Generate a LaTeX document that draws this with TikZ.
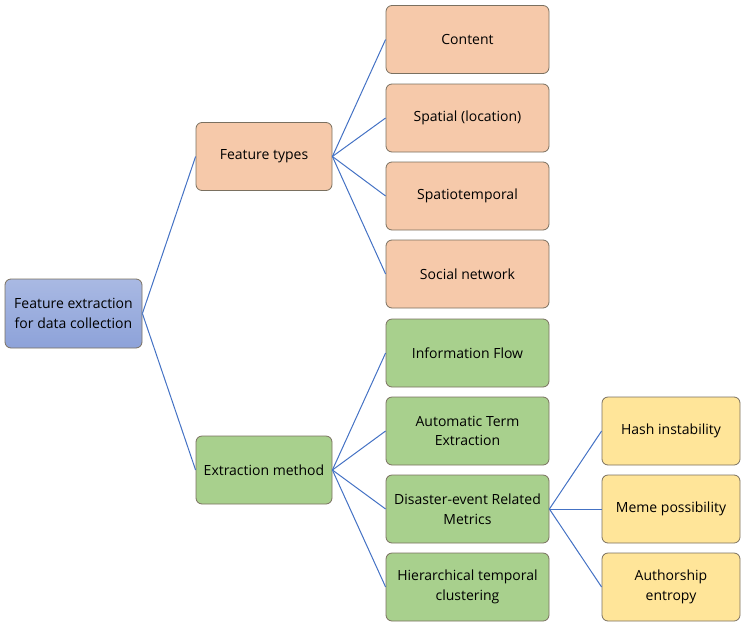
\documentclass[tikz,border=0pt]{standalone}
\usepackage{fontspec}
\setmainfont{Open Sans}
\definecolor{peach}{HTML}{F6C9AA}
\definecolor{grn}{HTML}{A8D08D}
\definecolor{yel}{HTML}{FFE599}
\definecolor{bluetop}{HTML}{A9B9E3}
\definecolor{bluebot}{HTML}{8DA2D9}
\definecolor{edge}{HTML}{4472C4}
\definecolor{bord}{HTML}{7A7060}
\tikzset{
  box/.style={draw=bord, line width=0.8pt, rounded corners=6pt, align=center, inner sep=0pt, font=\fontsize{14}{19.5}\selectfont},
  lvlzero/.style={box, top color=bluetop, bottom color=bluebot, minimum width=137pt, minimum height=69pt},
  lvlone/.style={box, fill=peach, minimum width=136pt, minimum height=68pt},
  peachbox/.style={box, fill=peach, minimum width=163pt, minimum height=68pt},
  greenbox/.style={box, fill=grn, minimum width=163pt, minimum height=68pt},
  greenone/.style={box, fill=grn, minimum width=136pt, minimum height=68pt},
  yelbox/.style={box, fill=yel, minimum width=138pt, minimum height=68pt},
  conn/.style={draw=edge, line width=1pt}
}
\begin{document}
\begin{tikzpicture}[x=1pt,y=-1pt]
\useasboundingbox (0,0) rectangle (752,627);
\node[lvlzero] (root) at (73.5,313.5) {Feature extraction\\for data collection};
\node[lvlone] (ft) at (264,156.5) {Feature types};
\node[greenone] (em) at (264,470) {Extraction method};
\node[peachbox] (c1) at (467.5,39.5) {Content};
\node[peachbox] (c2) at (467.5,118) {Spatial (location)};
\node[peachbox] (c3) at (467.5,196) {Spatiotemporal};
\node[peachbox] (c4) at (467.5,274) {Social network};
\node[greenbox] (g1) at (467.5,353) {Information Flow};
\node[greenbox] (g2) at (467.5,431) {Automatic Term\\Extraction};
\node[greenbox] (g3) at (467.5,509) {Disaster-event Related\\Metrics};
\node[greenbox] (g4) at (467.5,587) {Hierarchical temporal\\clustering};
\node[yelbox] (y1) at (671,431) {Hash instability};
\node[yelbox] (y2) at (671,509) {Meme possibility};
\node[yelbox] (y3) at (671,587) {Authorship\\entropy};
\foreach \a/\b in {root/ft, root/em, ft/c1, ft/c2, ft/c3, ft/c4, em/g1, em/g2, em/g3, em/g4, g3/y1, g3/y2, g3/y3}
  \draw[conn] (\a.east) -- (\b.west);
\end{tikzpicture}
\end{document}
